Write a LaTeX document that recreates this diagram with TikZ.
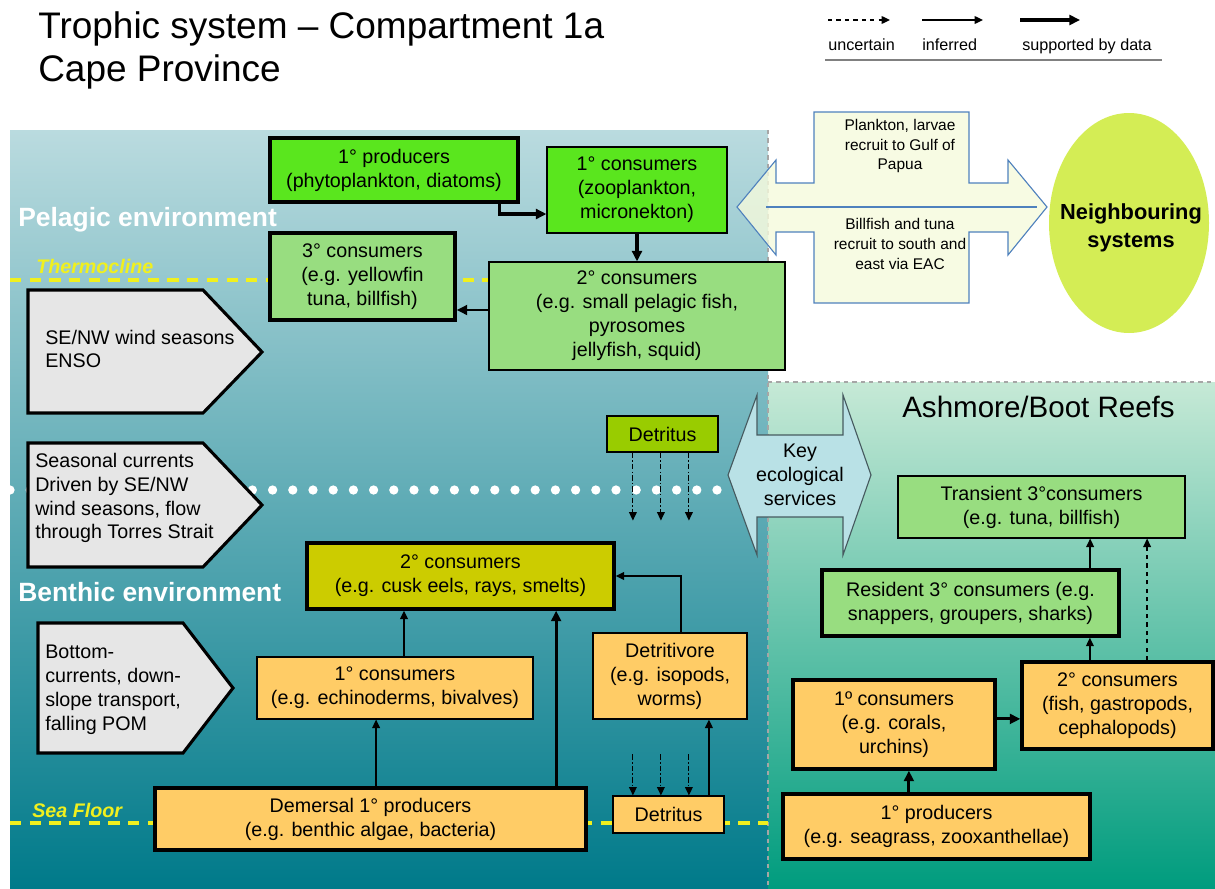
\documentclass[tikz,border=0pt]{standalone}
\usepackage{fontspec}
\setmainfont{Liberation Sans}
\usetikzlibrary{arrows.meta,shapes.geometric}
\definecolor{pgreen}{RGB}{90,230,30}
\definecolor{lgreen}{RGB}{152,221,128}
\definecolor{borange}{RGB}{255,204,102}
\definecolor{olive}{RGB}{204,204,0}
\definecolor{detgreen}{RGB}{153,204,0}
\definecolor{drvgray}{RGB}{230,230,230}
\definecolor{keyblue}{RGB}{185,225,230}
\definecolor{keyedge}{RGB}{70,90,95}
\definecolor{nbrfill}{RGB}{245,250,220}
\definecolor{nbrblue}{RGB}{79,129,189}
\definecolor{nbryellow}{RGB}{212,237,85}
\definecolor{lineyellow}{RGB}{240,240,30}
\definecolor{pelagtop}{RGB}{186,219,223}
\definecolor{pelagmid}{RGB}{55,145,163}
\definecolor{benthbot}{RGB}{0,122,138}
\definecolor{reeftop}{RGB}{198,233,214}
\definecolor{reefbot}{RGB}{0,156,126}
\newcommand{\boxfont}{\fontsize{14}{17}\selectfont}
\newcommand{\smallfont}{\fontsize{11}{14}\selectfont}
\newcommand{\legfont}{\fontsize{11.5}{14}\selectfont}
\newcommand{\titlefont}{\fontsize{26.3}{30}\selectfont}
\newcommand{\envfont}{\fontsize{18.8}{22}\selectfont\bfseries}
\tikzset{box/.style={draw,line width=0.8pt,align=center,font=\boxfont,inner sep=0pt},
  heavy/.style={box,line width=2.4pt},
  sz/.style 2 args={minimum width=#1*0.025cm,minimum height=#2*0.025cm},
  driver/.style={draw,fill=drvgray,line width=2.2pt,line join=miter},
  drvtext/.style={anchor=west,align=left,font=\boxfont,inner sep=0pt},
  flow/.style={-{Triangle[length=6pt,width=5.5pt]},line width=1pt},
  strong/.style={-{Triangle[length=7.5pt,width=7pt]},line width=2.2pt},
  unc/.style={flow,dashed},
  drop/.style={flow,dash pattern=on 4pt off 1.5pt on 1pt off 1.5pt,line width=0.8pt},
  seam/.style={draw=lineyellow,line width=2.2pt,dash pattern=on 8pt off 6pt},
  divider/.style={draw=gray!70,line width=0.8pt,dashed},
  envlab/.style={anchor=base west,font=\envfont,text=white,inner sep=0pt},
  linelab/.style={anchor=base west,font=\fontsize{14}{17}\selectfont\bfseries\itshape,text=lineyellow,inner sep=0pt},
  leg/.style={anchor=base west,font=\legfont,inner sep=0pt}}

\begin{document}
\begin{tikzpicture}[x=0.025cm,y=-0.025cm]
\useasboundingbox (0,0) rectangle (1215,888);
% backgrounds
\shade[top color=pelagtop,middle color=pelagmid,bottom color=benthbot] (10,130) rectangle (768,888);
\shade[top color=reeftop,bottom color=reefbot] (768,382) rectangle (1215,888);
\draw[divider] (768,130) -- (768,888);
\draw[divider] (768,382) -- (1215,382);
% title and legend
\node[anchor=base west,font=\titlefont,inner sep=0pt] (title1) at (38,38) {Trophic system – Compartment 1a};
\node[anchor=base west,font=\titlefont,inner sep=0pt] (title2) at (38,81) {Cape Province};
\coordinate (lgA) at (828,20); \coordinate (lgAe) at (890,20);
\coordinate (lgB) at (922,20); \coordinate (lgBe) at (983,20);
\coordinate (lgC) at (1020,20); \coordinate (lgCe) at (1080,20);
\draw[unc] (lgA) -- (lgAe);
\draw[flow] (lgB) -- (lgBe);
\draw[strong] (lgC) -- (lgCe);
\node[leg] (uncertain) at (828,50) {uncertain};
\node[leg] (inferred) at (922,50) {inferred};
\node[leg] (supported) at (1022,50) {supported by data};
\draw[gray,line width=0.8pt] (825,60) -- (1162,60);
% environment lines and labels
\draw[seam] (10,280) -- (489,280);
\draw[seam] (10,823) -- (768,823);
\foreach \i in {0,...,35} \fill[white] (10+\i*20.2,490) circle[radius=3.3pt];
\node[envlab] (pelagic) at (18,226) {Pelagic environment};
\node[envlab] (benthic) at (18,601) {Benthic environment};
\node[linelab] (thermo) at (36,273) {Thermocline};
\node[linelab] (seafloor) at (32,817) {Sea Floor};
% drivers
\draw[driver] (28,290) -- (203,290) -- (262,352) -- (203,413) -- (28,413) -- cycle;
\node[drvtext] (wind) at (45,349) {SE/NW wind seasons\\ENSO};
\draw[driver] (28,443) -- (203,443) -- (262,505) -- (203,567) -- (28,567) -- cycle;
\node[drvtext] (currents) at (35,498) {Seasonal currents\\Driven by SE/NW\\wind seasons, flow\\through Torres Strait};
\draw[driver] (38,623) -- (183,623) -- (233,688) -- (183,753) -- (38,753) -- cycle;
\node[drvtext] (bottom) at (45,690) {Bottom-\\currents, down-\\slope transport,\\falling POM};
% exchanges
\filldraw[fill=keyblue,draw=keyedge,line width=0.8pt] (728,475) -- (757,395) -- (757,435) -- (843,435) -- (843,395) -- (871,475) -- (843,555) -- (843,517) -- (757,517) -- (757,555) -- cycle;
\node[align=center,font=\boxfont,inner sep=0pt] (services) at (800,475) {Key\\ecological\\services};
\filldraw[fill=nbrfill,fill opacity=0.8,draw=nbrblue,line width=0.8pt] (737,207) -- (776,160) -- (776,183) -- (814,183) -- (814,112) -- (969,112) -- (969,183) -- (1008,183) -- (1008,160) -- (1047,207) -- (1008,255) -- (1008,232) -- (969,232) -- (969,303) -- (814,303) -- (814,232) -- (776,232) -- (776,255) -- cycle;
\draw[nbrblue,line width=0.8pt] (766,207) -- (1037,207);
\node[align=center,font=\smallfont,inner sep=0pt] (toPapua) at (900,146) {Plankton, larvae\\recruit to Gulf of\\Papua};
\node[align=center,font=\smallfont,inner sep=0pt] (toEAC) at (900,244) {Billfish and tuna\\recruit to south and\\east via EAC};
\node[ellipse,fill=nbryellow,sz={160}{220},inner sep=0pt] (nbr) at (1129,223) {};
\node[align=center,inner sep=0pt,font=\fontsize{15.5}{20}\selectfont\bfseries] (nbrtext) at (1131,228) {Neighbouring\\systems};
% pelagic web
\node[heavy,fill=pgreen,sz={248}{64}] (prodP) at (394,170) {1° producers\\(phytoplankton, diatoms)};
\node[box,fill=pgreen,sz={180}{86}] (consP1) at (637,190) {1° consumers\\(zooplankton,\\micronekton)};
\node[heavy,fill=lgreen,sz={185}{87}] (cons3) at (362.5,276.5) {3° consumers\\(e.g. yellowfin\\tuna, billfish)};
\node[box,fill=lgreen,sz={296}{108}] (cons2) at (637,316) {2° consumers\\(e.g. small pelagic fish,\\pyrosomes\\jellyfish, squid)};
\node[box,fill=detgreen,sz={111}{36}] (detT) at (662.5,434) {Detritus};
\draw[strong] ([xshift=-0.5cm]prodP.south east) |- ([yshift=-0.6cm]consP1.west);
\draw[strong] (consP1.south) -- (consP1.south |- cons2.north);
\draw[strong,line width=1.6pt] ([yshift=0.15cm]cons2.west) -- ([yshift=0.15cm]cons2.west -| cons3.east);
\foreach \dx in {-0.74,-0.04,0.66}
  \draw[drop] ([xshift=\dx cm]detT.south) -- ++(0,68);
% benthic web
\node[heavy,fill=olive,sz={307}{66}] (cons2B) at (460.5,576) {2° consumers\\(e.g. cusk eels, rays, smelts)};
\node[box,fill=borange,sz={276}{62}] (cons1B) at (395,688) {1° consumers\\(e.g. echinoderms, bivalves)};
\node[box,fill=borange,sz={154}{86}] (detv) at (670,676) {Detritivore\\(e.g. isopods,\\worms)};
\node[heavy,fill=borange,sz={431}{62}] (dem) at (370.5,819) {Demersal 1° producers\\(e.g. benthic algae, bacteria)};
\node[box,fill=borange,sz={111}{37}] (detB) at (668.5,814.5) {Detritus};
\draw[flow] ([xshift=0.225cm]cons1B.north) -- ([xshift=0.225cm]cons1B.north |- cons2B.south);
\draw[flow] ([xshift=0.14cm]dem.north) -- ([xshift=0.14cm]dem.north |- cons1B.south);
\draw[strong] ([xshift=4.64cm]dem.north) -- ([xshift=4.64cm]dem.north |- cons2B.south);
\draw[flow] ([xshift=0.275cm]detv.north) |- (cons2B.east);
\draw[flow] ([xshift=1.01cm]detB.north) -- ([xshift=1.01cm]detB.north |- detv.south);
\foreach \dx in {-0.89,-0.19,0.51}
  \draw[drop] ([xshift=\dx cm]detB.north) ++(0,-41) -- ([xshift=\dx cm]detB.north);
% reef web
\node[anchor=base west,font=\fontsize{21}{24}\selectfont,inner sep=0pt] (reefs) at (902,417) {Ashmore/Boot Reefs};
\node[box,fill=lgreen,sz={287}{62}] (trans3) at (1041.5,507) {Transient 3°consumers\\(e.g. tuna, billfish)};
\node[heavy,fill=lgreen,sz={297}{66}] (res3) at (970.5,603) {Resident 3° consumers (e.g.\\snappers, groupers, sharks)};
\node[heavy,fill=borange,sz={202}{89}] (cons1R) at (894,724.5) {1º consumers\\(e.g. corals,\\urchins)};
\node[heavy,fill=borange,sz={191}{87}] (cons2R) at (1117.5,705.5) {2° consumers\\(fish, gastropods,\\cephalopods)};
\node[heavy,fill=borange,sz={307}{65}] (prodR) at (936.5,826.5) {1° producers\\(e.g. seagrass, zooxanthellae)};
\draw[strong] ([xshift=-0.69cm]prodR.north) -- ([xshift=-0.69cm]prodR.north |- cons1R.south);
\draw[strong] ([yshift=0.14cm]cons1R.east) -- ([yshift=0.14cm]cons1R.east -| cons2R.west);
\draw[flow] ([xshift=-0.69cm]cons2R.north) -- ([xshift=-0.69cm]cons2R.north |- res3.south);
\draw[flow] ([xshift=2.99cm]res3.north) -- ([xshift=2.99cm]res3.north |- trans3.south);
\draw[unc] ([xshift=0.74cm]cons2R.north) -- ([xshift=0.74cm]cons2R.north |- trans3.south);
\end{tikzpicture}
\end{document}
